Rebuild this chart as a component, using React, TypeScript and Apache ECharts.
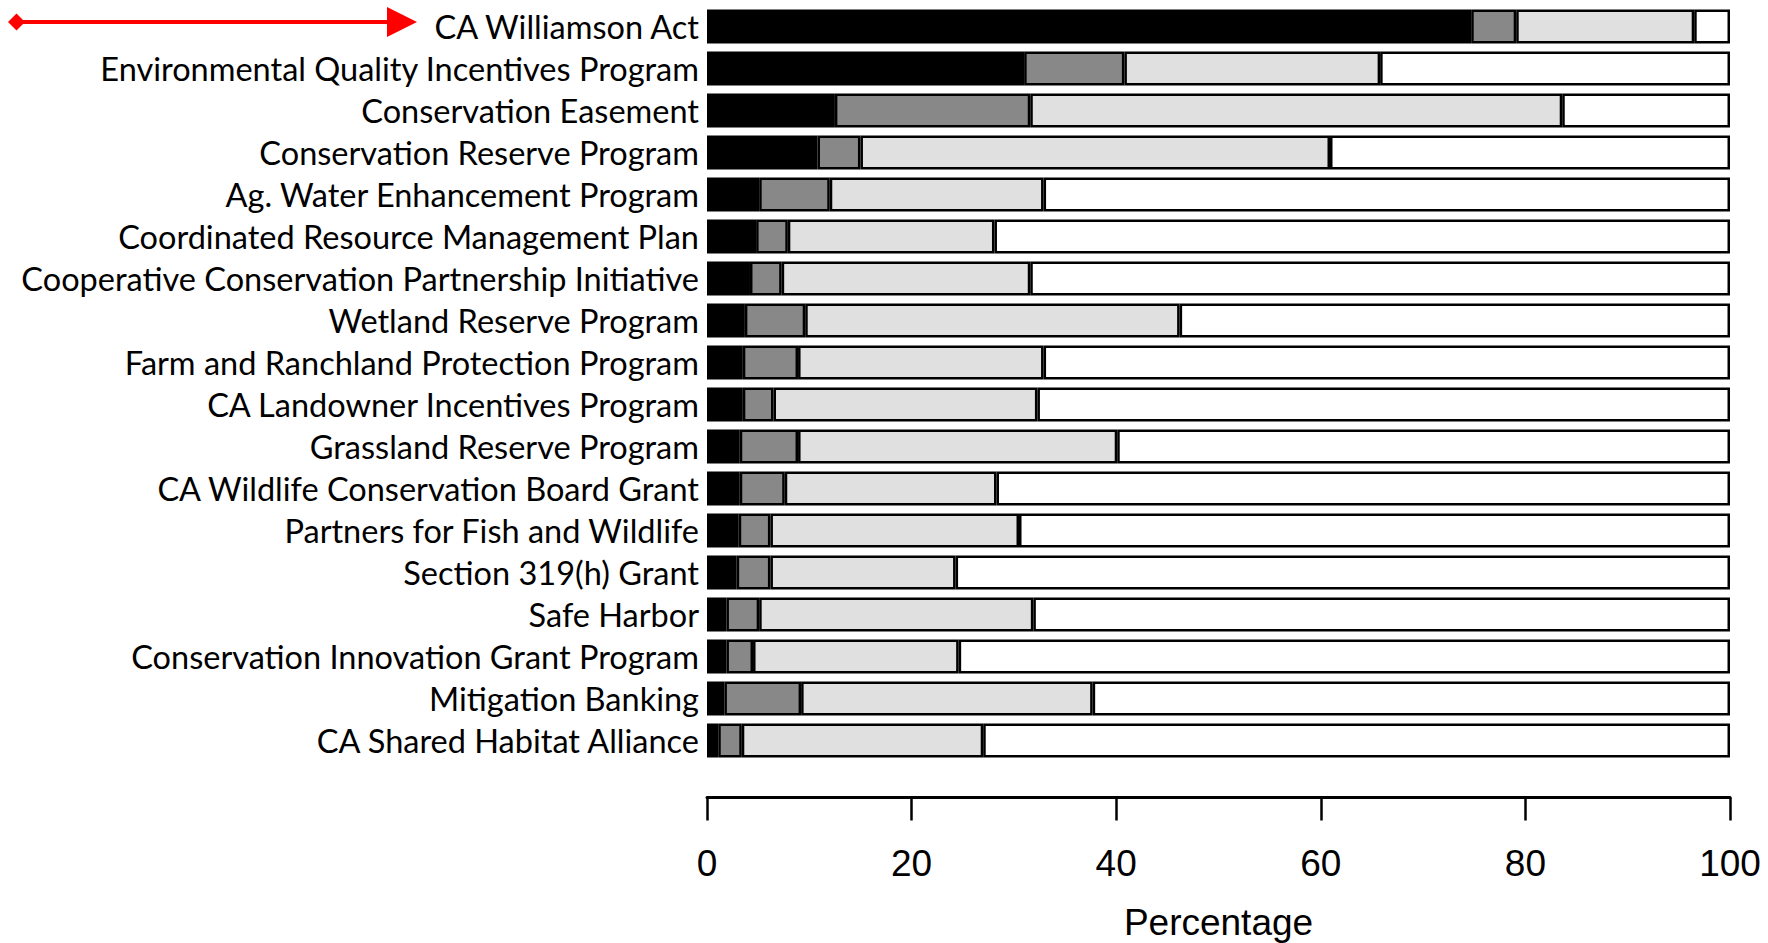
import React, { useEffect, useRef } from "react";
import * as echarts from "echarts";

const categories = [
  "CA Williamson Act",
  "Environmental Quality Incentives Program",
  "Conservation Easement",
  "Conservation Reserve Program",
  "Ag. Water Enhancement Program",
  "Coordinated Resource Management Plan",
  "Cooperative Conservation Partnership Initiative",
  "Wetland Reserve Program",
  "Farm and Ranchland Protection Program",
  "CA Landowner Incentives Program",
  "Grassland Reserve Program",
  "CA Wildlife Conservation Board Grant",
  "Partners for Fish and Wildlife",
  "Section 319(h) Grant",
  "Safe Harbor",
  "Conservation Innovation Grant Program",
  "Mitigation Banking",
  "CA Shared Habitat Alliance",
];

const blackValues = [74.7, 31.0, 12.5, 10.8, 5.1, 4.8, 4.2, 3.7, 3.5, 3.5, 3.2, 3.2, 3.1, 2.9, 1.9, 1.9, 1.7, 1.1];
const darkGrayValues = [4.4, 9.8, 19.1, 4.2, 6.9, 3.1, 3.1, 5.9, 5.4, 3.0, 5.7, 4.4, 3.1, 3.3, 3.2, 2.6, 7.5, 2.3];
const lightGrayValues = [17.4, 25.0, 52.0, 45.9, 20.9, 20.2, 24.3, 36.6, 24.0, 25.8, 31.2, 20.7, 24.3, 18.1, 26.8, 20.1, 28.5, 23.6];
const whiteValues = [3.5, 34.2, 16.4, 39.1, 67.1, 71.9, 68.4, 53.8, 67.1, 67.7, 59.9, 71.7, 69.5, 75.7, 68.1, 75.4, 62.3, 73.0];

const xTicks = [0, 20, 40, 60, 80, 100];

export default function App() {
  const ref = useRef<HTMLDivElement>(null);

  useEffect(() => {
    document.body.style.margin = "0";
    document.body.style.overflow = "hidden";
    if (!ref.current) return;
    const chart = echarts.init(ref.current, undefined, { renderer: "svg" });

    const mkSeries = (name: string, data: number[], color: string) => ({
      name,
      type: "bar",
      stack: "total",
      data,
      barWidth: 34,
      itemStyle: { color, borderColor: "#000", borderWidth: 2.5 },
      emphasis: { disabled: true },
    });

    chart.setOption({
      animation: false,
      backgroundColor: "#ffffff",
      grid: {
        left: 707,
        right: 38,
        top: 5.5,
        height: 756,
        containLabel: false,
        outerBoundsMode: "none",
      },
      xAxis: {
        type: "value",
        min: xTicks[0],
        max: xTicks[xTicks.length - 1],
        interval: 20,
        position: "bottom",
        offset: 36,
        splitLine: { show: false },
        axisLine: { show: true, lineStyle: { color: "#000", width: 3 } },
        axisTick: { show: true, length: 23, lineStyle: { color: "#000", width: 2.5 } },
        axisLabel: {
          margin: 47,
          fontSize: 37,
          fontFamily: "Liberation Sans",
          color: "#000",
        },
        name: "Percentage",
        nameLocation: "middle",
        nameGap: 106,
        nameTextStyle: { fontSize: 37, fontFamily: "Liberation Sans", color: "#000" },
      },
      yAxis: {
        type: "category",
        data: categories,
        inverse: true,
        axisLine: { show: false },
        axisTick: { show: false },
        axisLabel: {
          interval: 0,
          margin: 8,
          fontSize: 32.5,
          fontFamily: "Lato",
          color: "#000",
        },
      },
      series: [
        mkSeries("Segment 1", blackValues, "#000000"),
        mkSeries("Segment 2", darkGrayValues, "#888888"),
        mkSeries("Segment 3", lightGrayValues, "#e0e0e0"),
        mkSeries("Segment 4", whiteValues, "#ffffff"),
      ],
      graphic: [
        {
          type: "line",
          shape: { x1: 20, y1: 22, x2: 392, y2: 22 },
          style: { stroke: "#ff0000", lineWidth: 4 },
        },
        {
          type: "polygon",
          shape: { points: [[387, 7], [417, 22], [387, 37]] },
          style: { fill: "#ff0000" },
        },
        {
          type: "polygon",
          shape: { points: [[8, 22], [16.5, 13.5], [25, 22], [16.5, 30.5]] },
          style: { fill: "#ff0000" },
        },
      ],
    });

    return () => chart.dispose();
  }, []);

  return <div ref={ref} style={{ width: 1768, height: 943 }} />;
}
